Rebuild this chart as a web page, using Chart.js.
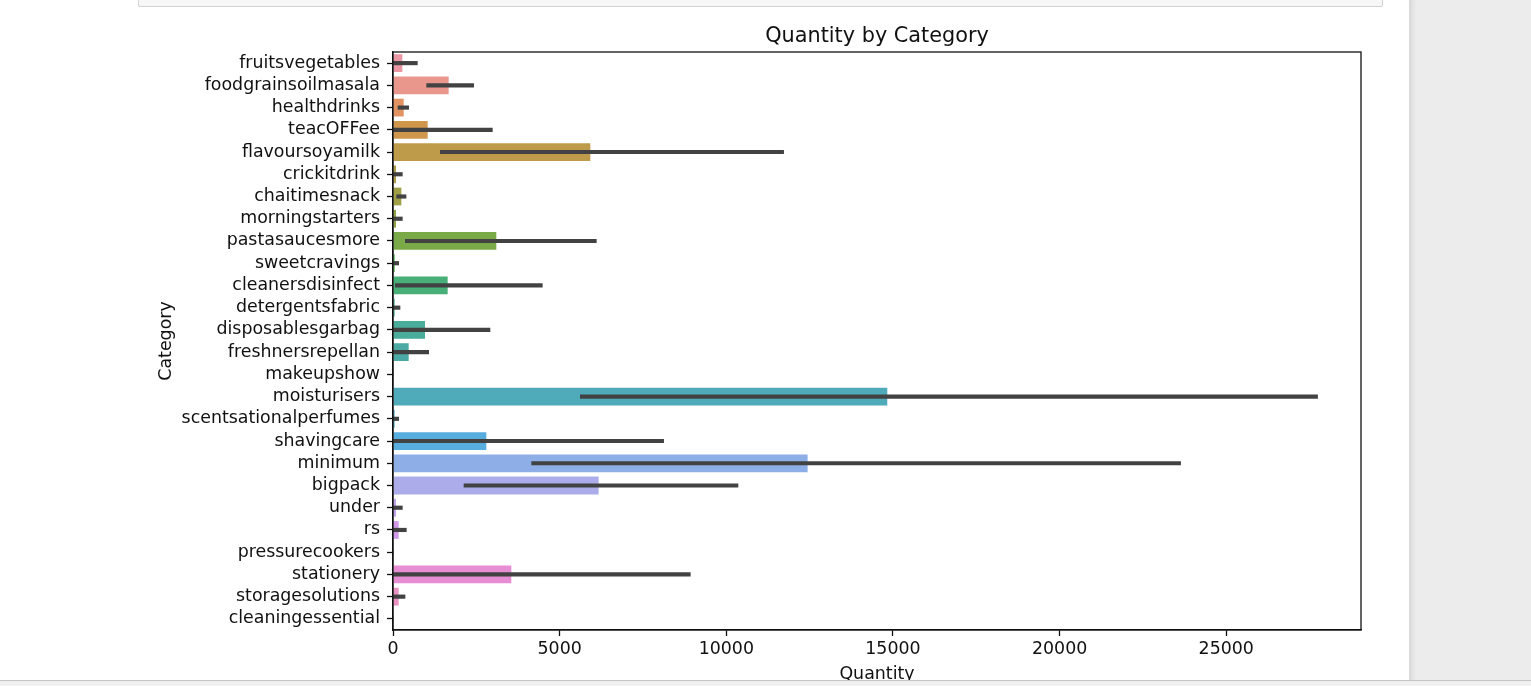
<!DOCTYPE html>
<html>
<head>
<meta charset="utf-8">
<script src="https://cdn.jsdelivr.net/npm/chart.js@4"></script>
<style>
  html, body { margin: 0; padding: 0; background: #fff; width: 1531px; height: 686px; overflow: hidden; }
  #cellTop { position: absolute; left: 138px; top: -10px; width: 1243px; height: 15px; background: #f7f7f7; border: 1px solid #d2d2d2; border-radius: 2px; }
  #side { position: absolute; left: 1409px; top: 0; width: 122px; height: 686px; background: #ececec; box-shadow: inset 7px 0 6px -5px rgba(0,0,0,0.12); }
  #bottomBar { position: absolute; left: 0; top: 680px; width: 1531px; height: 6px; background: #f0f0f0; border-top: 1px solid #c4c4c4; z-index: 5; }
  #wrap { position: absolute; left: 0; top: 0; width: 1409px; height: 686px; }
</style>
</head>
<body>
<div id="cellTop"></div>
<div id="side"></div>
<div id="wrap"><canvas id="c"></canvas></div>
<div id="bottomBar"></div>
<script>
// values
const categories = [
  'fruitsvegetables', 'foodgrainsoilmasala', 'healthdrinks', 'teacOFFee', 'flavoursoyamilk',
  'crickitdrink', 'chaitimesnack', 'morningstarters', 'pastasaucesmore', 'sweetcravings',
  'cleanersdisinfect', 'detergentsfabric', 'disposablesgarbag', 'freshnersrepellan', 'makeupshow',
  'moisturisers', 'scentsationalperfumes', 'shavingcare', 'minimum', 'bigpack',
  'under', 'rs', 'pressurecookers', 'stationery', 'storagesolutions', 'cleaningessential',
];
const quantity = [280, 1670, 320, 1040, 5920, 90, 250, 90, 3100, 50, 1640, 50, 960, 470, 0,
  14830, 50, 2800, 12440, 6170, 90, 170, 0, 3550, 170, 0];
const ciLow = [0, 1010, 150, 0, 1420, 0, 110, 0, 370, 0, 70, 0, 0, 0, 0,
  5620, 0, 0, 4160, 2130, 0, 0, 0, 0, 0, 0];
const ciHigh = [730, 2420, 470, 2980, 11720, 280, 390, 280, 6100, 170, 4480, 210, 2910, 1070, 0,
  27740, 170, 8120, 23630, 10350, 280, 400, 0, 8920, 360, 0];
const xTicks = [0, 5000, 10000, 15000, 20000, 25000];

// seaborn-style husl palette, desaturated to 0.75
const M = [[3.2406, -1.5372, -0.4986], [-0.9689, 1.8758, 0.0415], [0.0557, -0.2040, 1.0570]];
function maxChroma(L, H) {
  const hr = H * Math.PI / 180, sinH = Math.sin(hr), cosH = Math.cos(hr);
  const sub1 = Math.pow(L + 16, 3) / 1560896;
  const sub2 = sub1 > 0.008856 ? sub1 : L / 903.3;
  let res = Infinity;
  for (const [m1, m2, m3] of M) {
    const top = (0.99915 * m1 + 1.05122 * m2 + 1.14460 * m3) * sub2;
    const rb = 0.86330 * m3 - 0.17266 * m2;
    const lb = 0.12949 * m3 - 0.38848 * m1;
    const bottom = (rb * sinH + lb * cosH) * sub2;
    for (const t of [0, 1]) {
      const C = L * (top - 1.05122 * t) / (bottom + 0.17266 * sinH * t);
      if (C > 0 && C < res) res = C;
    }
  }
  return res;
}
function huslToRgb(h, s, l) {
  const C = maxChroma(l, h) / 100 * s;
  const hr = h * Math.PI / 180;
  const U = Math.cos(hr) * C, V = Math.sin(hr) * C;
  const t = (l + 16) / 116;
  const Y = t * t * t > 0.008856 ? t * t * t : (116 * t - 16) / 903.3;
  const vu = U / (13 * l) + 0.19784, vv = V / (13 * l) + 0.46834;
  const X = -(9 * Y * vu) / ((vu - 4) * vv - vu * vv);
  const Z = (9 * Y - 15 * vv * Y - vv * X) / (3 * vv);
  return M.map((r) => {
    let c = r[0] * X + r[1] * Y + r[2] * Z;
    c = c <= 0.0031308 ? 12.92 * c : 1.055 * Math.pow(c, 1 / 2.4) - 0.055;
    return Math.min(1, Math.max(0, c));
  });
}
function desaturate([r, g, b], p) {
  const mx = Math.max(r, g, b), mn = Math.min(r, g, b), l = (mx + mn) / 2;
  if (mx === mn) return [r, g, b];
  const d = mx - mn;
  let s = l <= 0.5 ? d / (mx + mn) : d / (2 - mx - mn);
  let h;
  if (mx === r) h = ((g - b) / d) / 6; else if (mx === g) h = (2 + (b - r) / d) / 6; else h = (4 + (r - g) / d) / 6;
  h = ((h % 1) + 1) % 1;
  s *= p;
  const m2 = l <= 0.5 ? l * (1 + s) : l + s - l * s, m1 = 2 * l - m2;
  const v = (hh) => {
    hh = ((hh % 1) + 1) % 1;
    if (hh < 1 / 6) return m1 + (m2 - m1) * hh * 6;
    if (hh < 0.5) return m2;
    if (hh < 2 / 3) return m1 + (m2 - m1) * (2 / 3 - hh) * 6;
    return m1;
  };
  return [v(h + 1 / 3), v(h), v(h - 1 / 3)];
}
const colors = categories.map((_, i) => {
  const h = ((i / categories.length + 0.01) % 1) * 359;
  const c = desaturate(huslToRgb(h, 0.9 * 99, 0.70 * 99), 0.75);
  return `rgb(${c.map((x) => Math.round(x * 255)).join(',')})`;
});

const frame = {
  id: 'frame',
  afterDatasetsDraw(chart) {
    const { ctx, chartArea: a } = chart;
    ctx.save();
    ctx.strokeStyle = '#111';
    ctx.lineWidth = 1.3;
    ctx.strokeRect(a.left, a.top, a.right - a.left, a.bottom - a.top);
    ctx.restore();
  },
};

const font = { family: '"DejaVu Sans", sans-serif', size: 17.4 };

new Chart(document.getElementById('c'), {
  type: 'bar',
  data: {
    labels: categories,
    datasets: [
      {
        data: categories.map((_, i) => [ciLow[i], ciHigh[i]]),
        backgroundColor: '#424242', barThickness: 3.5, grouped: false, order: 0,
      },
      {
        data: quantity, backgroundColor: colors, borderWidth: 0,
        barPercentage: 0.8, categoryPercentage: 1, grouped: false, order: 1,
      },
    ],
  },
  options: {
    indexAxis: 'y',
    responsive: true,
    maintainAspectRatio: false,
    animation: false,
    layout: { padding: { left: 156, right: 48, top: 22, bottom: 0 } },
    plugins: {
      legend: { display: false },
      tooltip: { enabled: false },
    },
    scales: {
      x: {
        min: 0, max: 29043,
        afterBuildTicks: (s) => { s.ticks = xTicks.map((v) => ({ value: v })); },
        afterFit: (s) => { s.height = 56; },
        ticks: { color: '#111', font, padding: 3, maxRotation: 0, callback: (v) => String(v) },
        grid: { drawOnChartArea: false, color: '#111', tickLength: 6, tickWidth: 1.3 },
        border: { color: '#111', width: 1.3 },
        title: { display: true, text: 'Quantity', color: '#111', font, padding: { top: 0, bottom: 1.5 } },
      },
      // top axis only carries the plot title, centred over the plot area
      xTop: {
        type: 'linear', position: 'top', min: 0, max: 1,
        afterFit: (s) => { s.height = 30; },
        ticks: { display: false },
        grid: { display: false, drawTicks: false },
        border: { display: false },
        title: {
          display: true, text: 'Quantity by Category', color: '#111',
          font: { family: font.family, size: 20.8, lineHeight: 1.2 }, padding: { top: 2, bottom: 0 },
        },
      },
      y: {
        offset: true,
        afterFit: (s) => { s.width = 237; },
        ticks: { color: '#111', font, padding: 7, autoSkip: false },
        grid: { offset: false, drawOnChartArea: false, color: '#111', tickLength: 6, tickWidth: 1.3 },
        border: { color: '#111', width: 1.3 },
        title: { display: true, text: 'Category', color: '#111', font, padding: 0 },
      },
    },
  },
  plugins: [frame],
});
</script>
</body>
</html>
